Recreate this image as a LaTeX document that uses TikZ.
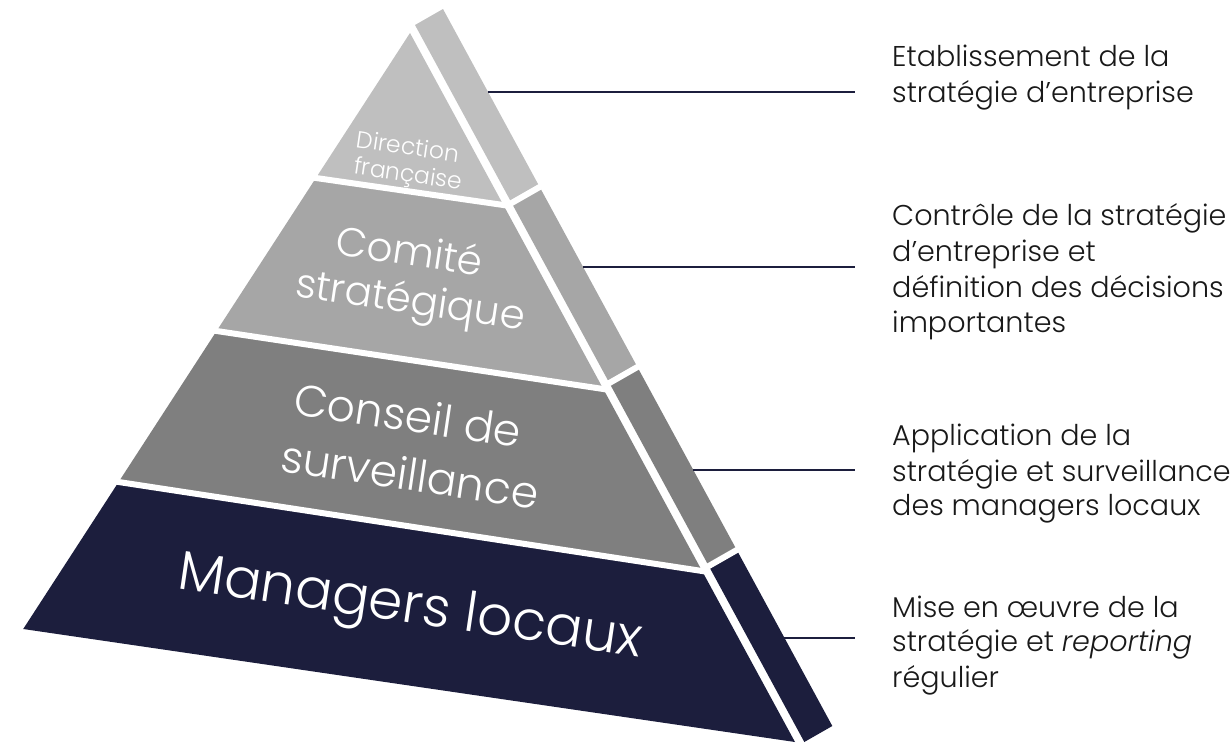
\documentclass[tikz,border=0pt]{standalone}
\usepackage{fontspec}
\setmainfont{Poppins}[UprightFont=* Light, ItalicFont=* Light Italic]
\usetikzlibrary{calc}
\definecolor{layA}{RGB}{191,191,191}
\definecolor{layB}{RGB}{166,166,166}
\definecolor{layC}{RGB}{127,127,127}
\definecolor{layD}{RGB}{28,30,61}
\definecolor{navy}{RGB}{28,30,61}
\definecolor{txt}{RGB}{25,25,25}
\begin{document}
\begin{tikzpicture}[x=1pt,y=-1pt,
  sepline/.style={white,line width=6pt},
  stub/.style={navy,line width=2pt},
  laytxt/.style={white,rotate=-8.4,inner sep=0pt,anchor=center},
  desc/.style={txt,inner sep=0pt,anchor=base west,font=\fontsize{28.6}{34}\selectfont}]
\useasboundingbox (0,0) rectangle (1231,742);
% front face
\coordinate (A) at (410,33);
\coordinate (L1) at (315.9,178); \coordinate (R1) at (503.4,205);
\coordinate (L2) at (216.6,331); \coordinate (R2) at (603.3,389);
\coordinate (L3) at (118.6,482); \coordinate (R3) at (702.1,571);
\coordinate (BL) at (23.2,629);  \coordinate (BR) at (795,742);
\fill[layA] (A) -- (R1) -- (L1) -- cycle;
\fill[layB] (L1) -- (R1) -- (R2) -- (L2) -- cycle;
\fill[layC] (L2) -- (R2) -- (R3) -- (L3) -- cycle;
\fill[layD] (L3) -- (R3) -- (BR) -- (BL) -- cycle;
\draw[sepline] ($(L1)!-6pt!(R1)$) -- ($(R1)!-4pt!(L1)$);
\draw[sepline] ($(L2)!-6pt!(R2)$) -- ($(R2)!-4pt!(L2)$);
\draw[sepline] ($(L3)!-6pt!(R3)$) -- ($(R3)!-4pt!(L3)$);
% side strip
\coordinate (P0) at (415,25);     \coordinate (Q0) at (443,9);
\coordinate (P1) at (511.65,203); \coordinate (Q1) at (539.65,187);
\coordinate (P2) at (609.39,383); \coordinate (Q2) at (637.39,367);
\coordinate (P3) at (708.76,566); \coordinate (Q3) at (736.76,550);
\coordinate (P4) at (804.33,742); \coordinate (Q4) at (832.33,726);
\fill[layA] (P0) -- (Q0) -- (Q1) -- (P1) -- cycle;
\fill[layB] (P1) -- (Q1) -- (Q2) -- (P2) -- cycle;
\fill[layC] (P2) -- (Q2) -- (Q3) -- (P3) -- cycle;
\fill[layD] (P3) -- (Q3) -- (Q4) -- (P4) -- cycle;
\draw[sepline] ($(P1)!-3pt!(Q1)$) -- ($(Q1)!-3pt!(P1)$);
\draw[sepline] ($(P2)!-3pt!(Q2)$) -- ($(Q2)!-3pt!(P2)$);
\draw[sepline] ($(P3)!-3pt!(Q3)$) -- ($(Q3)!-3pt!(P3)$);
% layer labels
\node[laytxt,font=\fontsize{23.5}{23.5}\selectfont] (t1a) at (408,146) {Direction};
\node[laytxt,font=\fontsize{23.5}{23.5}\selectfont] (t1b) at (408,176) {française};
\node[laytxt,font=\fontsize{40.5}{40.5}\selectfont] (t2a) at (410,250) {Comité};
\node[laytxt,font=\fontsize{40.5}{40.5}\selectfont] (t2b) at (410,303) {stratégique};
\node[laytxt,font=\fontsize{44}{44}\selectfont] (t3a) at (408,415) {Conseil de};
\node[laytxt,font=\fontsize{44}{44}\selectfont] (t3b) at (410,474) {surveillance};
\node[laytxt,font=\fontsize{55}{55}\selectfont] (t4) at (410,610) {Managers locaux};
% connectors
\coordinate (c1s) at (488.0,92);  \coordinate (c1e) at (855,92);
\coordinate (c2s) at (583.0,267); \coordinate (c2e) at (855,267);
\coordinate (c3s) at (693.1,470); \coordinate (c3e) at (855,470);
\coordinate (c4s) at (784.2,638); \coordinate (c4e) at (855,638);
\draw[stub] (c1s) -- (c1e);
\draw[stub] (c2s) -- (c2e);
\draw[stub] (c3s) -- (c3e);
\draw[stub] (c4s) -- (c4e);
% descriptions
\node[desc] (d1a) at (892,66)  {Etablissement de la};
\node[desc] (d1b) at (892,102) {stratégie d’entreprise};
\node[desc] (d2a) at (892,225) {Contrôle de la stratégie};
\node[desc] (d2b) at (892,261) {d’entreprise et};
\node[desc] (d2c) at (892,297) {définition des décisions};
\node[desc] (d2d) at (892,332) {importantes};
\node[desc] (d3a) at (892,445) {Application de la};
\node[desc] (d3b) at (892,481) {stratégie et surveillance};
\node[desc] (d3c) at (892,515) {des managers locaux};
\node[desc] (d4a) at (892,617) {Mise en œuvre de la};
\node[desc] (d4b) at (892,651) {stratégie et \textit{reporting}};
\node[desc] (d4c) at (892,687) {régulier};
\end{tikzpicture}
\end{document}
